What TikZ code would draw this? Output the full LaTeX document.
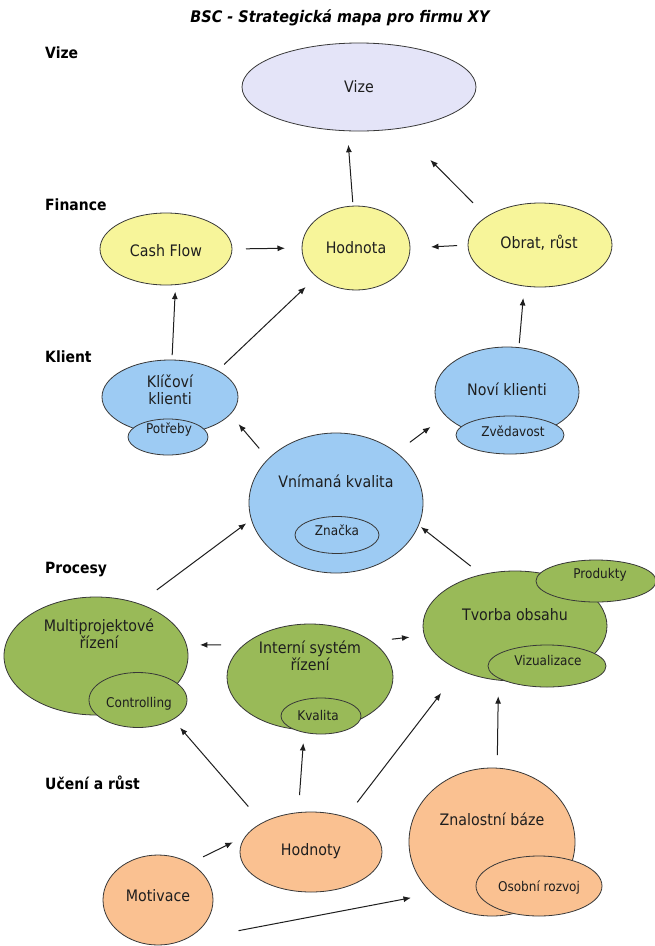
\documentclass[tikz,border=0pt]{standalone}
\usepackage{fontspec}
\setmainfont{DejaVu Sans}[FakeStretch=0.9]
\usetikzlibrary{arrows.meta,shapes.geometric}

\definecolor{vizefill}{HTML}{E4E4F8}
\definecolor{finfill}{HTML}{F7F59A}
\definecolor{klifill}{HTML}{9DCBF3}
\definecolor{procfill}{HTML}{99BA58}
\definecolor{ucfill}{HTML}{FAC191}
\definecolor{edgecol}{HTML}{383838}
\definecolor{inkcol}{HTML}{1E1E1E}

% bubble: name, fill, x, y, width, height
\newcommand\mkbubble[6]{\node[bub,fill=#2,minimum width=#5pt,minimum height=#6pt] (#1) at (#3,#4) {};}
% link: from node, anchor angle, to node, anchor angle, gap at start, gap at end
\newcommand\mklink[6]{\draw[arr,shorten <=#5pt,shorten >=#6pt] (#1.#2) -- (#3.#4);}

\begin{document}
\begin{tikzpicture}[x=1pt,y=-1pt,
  bub/.style={ellipse,draw=edgecol,line width=0.8pt,inner sep=0pt,outer sep=0pt},
  bigtxt/.style={font=\fontsize{15.8}{17}\selectfont,text=inkcol,inner sep=0pt,align=center},
  smalltxt/.style={font=\fontsize{13.4}{15}\selectfont,text=inkcol,inner sep=0pt},
  laytxt/.style={font=\fontsize{15.5}{17}\selectfont\bfseries,text=black,inner sep=0pt,anchor=west},
  arr/.style={-{Latex[length=7.5pt,width=6pt]},line width=1pt,draw=inkcol}]

\fill[white] (0,0) rectangle (654,946);
\useasboundingbox (0,0) rectangle (654,946);

% heading and layer labels
\node[font=\fontsize{16}{18}\selectfont\bfseries\itshape,inner sep=0pt] (title) at (340,18) {BSC - Strategická mapa pro firmu XY};
\node[laytxt] (l-vize) at (45,53) {Vize};
\node[laytxt] (l-fin) at (45,205) {Finance};
\node[laytxt] (l-kli) at (45,357) {Klient};
\node[laytxt] (l-proc) at (45,570) {Procesy};
\node[laytxt] (l-uc) at (45,783) {Učení a růst};

% vision
\mkbubble{vize}{vizefill}{359}{87}{234}{88}

% finance
\mkbubble{cash}{finfill}{166}{249}{132}{72}
\mkbubble{hod}{finfill}{356}{248}{108}{84}
\mkbubble{obrat}{finfill}{540}{245}{144}{84}

% clients
\mkbubble{klic}{klifill}{170}{397}{136}{74}
\mkbubble{potr}{klifill}{168}{437}{80}{36}
\mkbubble{novi}{klifill}{507}{392}{144}{90}
\mkbubble{zved}{klifill}{510}{435}{108}{38}
\mkbubble{vk}{klifill}{336}{503}{174}{140}
\mkbubble{znacka}{klifill}{337}{535}{84}{37}

% processes
\mkbubble{multi}{procfill}{96}{656}{184}{118}
\mkbubble{contr}{procfill}{138}{700}{98}{55}
\mkbubble{interni}{procfill}{310}{677}{166}{106}
\mkbubble{kval}{procfill}{321}{716}{80}{36}
\mkbubble{tvorba}{procfill}{515}{626}{184}{110}
\mkbubble{prod}{procfill}{596}{581}{120}{42}
\mkbubble{vizu}{procfill}{547}{666}{118}{42}

% learning and growth
\mkbubble{hodnoty}{ucfill}{311}{852}{142}{80}
\mkbubble{motiv}{ucfill}{158}{900}{110}{90}
\mkbubble{znal}{ucfill}{492}{842}{166}{148}
\mkbubble{osob}{ucfill}{539}{886}{126}{60}

% texts
\node[bigtxt] (t-vize) at (359,87) {Vize};
\node[bigtxt] (t-cash) at (166,251) {Cash Flow};
\node[bigtxt] (t-hod) at (356,248) {Hodnota};
\node[bigtxt] (t-obrat) at (539,243) {Obrat, růst};
\node[bigtxt] (t-klic) at (170,390) {Klíčoví\\klienti};
\node[smalltxt] (t-potr) at (169,430) {Potřeby};
\node[bigtxt] (t-novi) at (507,389) {Noví klienti};
\node[smalltxt] (t-zved) at (513,431) {Zvědavost};
\node[bigtxt] (t-vk) at (336,481) {Vnímaná kvalita};
\node[smalltxt] (t-znacka) at (337,530) {Značka};
\node[bigtxt] (t-multi) at (99,634) {Multiprojektové\\řízení};
\node[smalltxt] (t-contr) at (139,704) {Controlling};
\node[bigtxt] (t-interni) at (310,656) {Interní systém\\řízení};
\node[smalltxt] (t-kval) at (318,715) {Kvalita};
\node[bigtxt] (t-tvorba) at (515,615) {Tvorba obsahu};
\node[smalltxt] (t-prod) at (600,575) {Produkty};
\node[smalltxt] (t-vizu) at (548,660) {Vizualizace};
\node[bigtxt] (t-hodnoty) at (311,851) {Hodnoty};
\node[bigtxt] (t-motiv) at (158,896) {Motivace};
\node[bigtxt] (t-znal) at (492,819) {Znalostní báze};
\node[smalltxt] (t-osob) at (539,888) {Osobní rozvoj};

% cause and effect links
\mklink{hod}{94}{vize}{-105}{4}{14}
\mklink{obrat}{152}{vize}{-46}{19.5}{44.5}
\mklink{cash}{0}{hod}{180}{14}{17}
\mklink{obrat}{180}{hod}{0}{11}{21}
\mklink{klic}{87}{cash}{-75}{5}{7}
\mklink{klic}{29}{hod}{-144}{9}{15}
\mklink{novi}{75}{obrat}{-111}{4.5}{12}
\mklink{vk}{147}{klic}{-16}{14}{13}
\mklink{vk}{40}{novi}{-159}{17}{19}
\mklink{multi}{51}{vk}{-169}{23}{6.5}
\mklink{tvorba}{123}{vk}{-15}{14}{3}
\mklink{interni}{154}{multi}{7}{23}{13.6}
\mklink{interni}{30}{tvorba}{-174}{20.5}{15}
\mklink{hodnoty}{149}{contr}{-29}{21.6}{11}
\mklink{hodnoty}{108}{kval}{-136}{17.5}{10.7}
\mklink{hodnoty}{45}{tvorba}{-142}{18.6}{29.5}
\mklink{znal}{86}{tvorba}{-107}{13}{16}
\mklink{motiv}{49}{hodnoty}{166}{14.7}{14.7}
\mklink{motiv}{-80}{znal}{-139}{74}{22}
\end{tikzpicture}
\end{document}
